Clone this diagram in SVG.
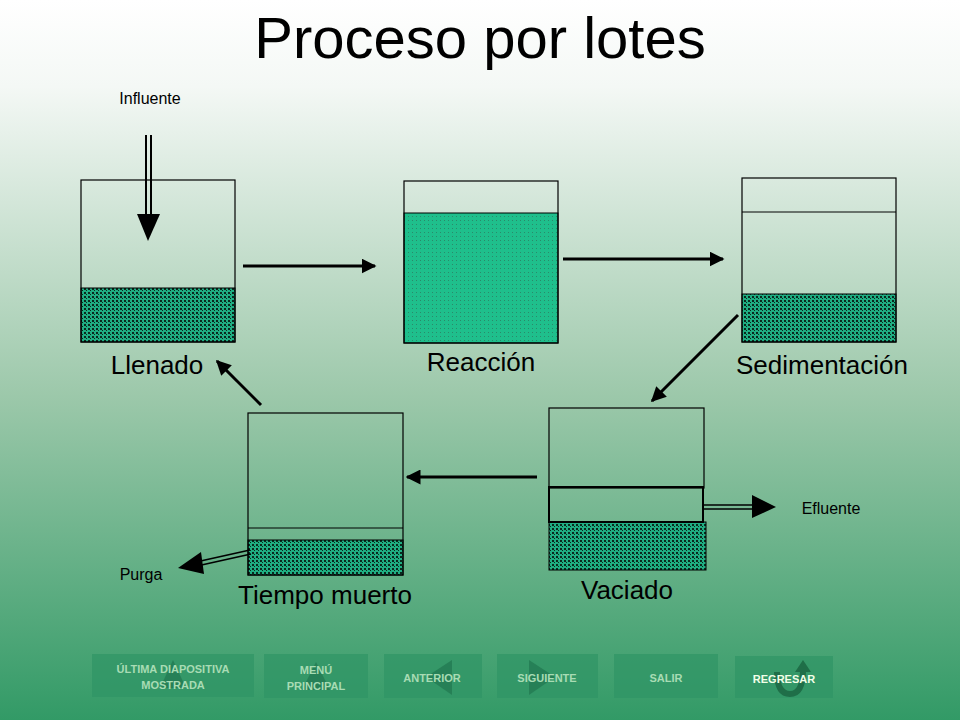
<svg xmlns="http://www.w3.org/2000/svg" width="960" height="720" viewBox="0 0 960 720">
<defs>
<linearGradient id="bg" x1="0" y1="0" x2="0" y2="1">
<stop offset="0" stop-color="#ffffff"/><stop offset="0.12" stop-color="#f4f8f5"/><stop offset="0.55" stop-color="#9cc8aa"/><stop offset="1" stop-color="#329a66"/>
</linearGradient>
<pattern id="dots" width="4" height="4" patternUnits="userSpaceOnUse">
<rect width="4" height="4" fill="#1fae82"/><rect width="2" height="2" fill="#0a2a1e"/><rect x="2" y="2" width="1" height="1" fill="#0a2a1e"/>
</pattern>
<pattern id="light" width="4" height="4" patternUnits="userSpaceOnUse">
<rect width="4" height="4" fill="#1fbf8c"/><rect width="1" height="1" fill="#2a8a6a"/>
</pattern>
<marker id="ah" viewBox="0 0 10 10" refX="9" refY="5" markerWidth="5" markerHeight="5" orient="auto"><path d="M0,0L10,5L0,10z" fill="#000"/></marker>
<style>
.t{fill:none;stroke:#000;stroke-width:1.2}
.lbl{font-family:"Liberation Sans",Arial,sans-serif;fill:#000}
.c{stroke:#000;stroke-width:3;marker-end:url(#ah)}
.btn{fill:#2f9465;opacity:0.7}
.bt{font-family:"Liberation Sans",Arial,sans-serif;font-size:11px;font-weight:bold;fill:#a8dcb4;text-anchor:middle}
.tri{fill:#237a52;opacity:0.8}
</style>
</defs>
<rect width="960" height="720" fill="url(#bg)"/>
<text x="480" y="58" class="lbl" font-size="58" text-anchor="middle">Proceso por lotes</text>

<g id="llenado">
<rect x="81" y="288" width="154" height="54" fill="url(#dots)" stroke="#000"/>
<rect x="81" y="180" width="154" height="162" class="t"/>
<line x1="146" y1="135" x2="146" y2="216" stroke="#000" stroke-width="2"/>
<line x1="151" y1="135" x2="151" y2="216" stroke="#000" stroke-width="2"/>
<path d="M137,214L160,214L148,241z" fill="#000"/>
<text x="150" y="104" class="lbl" font-size="16" text-anchor="middle">Influente</text>
<text x="157" y="374" class="lbl" font-size="26" text-anchor="middle">Llenado</text>
</g>
<g id="reaccion">
<rect x="404" y="213" width="154" height="130" fill="url(#light)" stroke="#000"/>
<rect x="404" y="181" width="154" height="162" class="t"/>
<text x="481" y="371" class="lbl" font-size="26" text-anchor="middle">Reacción</text>
</g>
<g id="sedimentacion">
<rect x="742" y="294" width="154" height="48" fill="url(#dots)" stroke="#000"/>
<rect x="742" y="178" width="154" height="164" class="t"/>
<line x1="742" y1="212" x2="896" y2="212" stroke="#000"/>
<text x="822" y="374" class="lbl" font-size="26" text-anchor="middle">Sedimentación</text>
</g>
<g id="vaciado">
<rect x="549" y="522" width="157" height="48" fill="url(#dots)" stroke="#000"/>
<rect x="549" y="408" width="155" height="80" class="t"/>
<rect x="549" y="487" width="154" height="35" fill="none" stroke="#000" stroke-width="2"/>
<line x1="703" y1="505" x2="756" y2="505" stroke="#000" stroke-width="1.5"/>
<line x1="703" y1="509" x2="756" y2="509" stroke="#000" stroke-width="1.5"/>
<path d="M752,495L776,507L752,518z" fill="#000"/>
<text x="831" y="514" class="lbl" font-size="16" text-anchor="middle">Efluente</text>
<text x="627" y="599" class="lbl" font-size="26" text-anchor="middle">Vaciado</text>
</g>
<g id="tiempo-muerto">
<rect x="248" y="540" width="155" height="35" fill="url(#dots)" stroke="#000"/>
<rect x="248" y="413" width="155" height="162" class="t"/>
<line x1="248" y1="528" x2="403" y2="528" stroke="#000"/>
<line x1="250" y1="550" x2="196" y2="562" stroke="#000" stroke-width="1.5"/>
<line x1="251" y1="554" x2="197" y2="566" stroke="#000" stroke-width="1.5"/>
<path d="M201,552L178,568L204,574z" fill="#000"/>
<text x="141" y="580" class="lbl" font-size="16" text-anchor="middle">Purga</text>
<text x="325" y="604" class="lbl" font-size="26" text-anchor="middle">Tiempo muerto</text>
</g>
<g id="connectors">
<line x1="243" y1="266" x2="375" y2="266" class="c"/>
<line x1="563" y1="259" x2="723" y2="259" class="c"/>
<line x1="738" y1="315" x2="652" y2="401" class="c"/>
<line x1="537" y1="477" x2="407" y2="477" class="c"/>
<line x1="261" y1="405" x2="217" y2="361" class="c"/>
</g>
<g id="nav">
<rect x="92" y="654" width="162" height="43" class="btn"/>
<path d="M160,688L173,660L186,688z" class="tri"/>
<text x="173" y="673" class="bt">ÚLTIMA DIAPOSITIVA</text><text x="173" y="689" class="bt">MOSTRADA</text>
<rect x="264" y="654" width="104" height="44" class="btn"/>
<path d="M302,690L316,662L330,690z" class="tri"/>
<text x="316" y="674" class="bt">MENÚ</text><text x="316" y="690" class="bt">PRINCIPAL</text>
<rect x="384" y="654" width="98" height="44" class="btn"/>
<path d="M452,660L426,677L452,695z" class="tri"/>
<text x="432" y="682" class="bt">ANTERIOR</text>
<rect x="497" y="654" width="101" height="44" class="btn"/>
<path d="M529,660L555,677L529,695z" class="tri"/>
<text x="547" y="682" class="bt">SIGUIENTE</text>
<rect x="614" y="654" width="104" height="44" class="btn"/>
<text x="666" y="682" class="bt">SALIR</text>
<rect x="735" y="656" width="98" height="42" class="btn"/>
<path d="M777,672Q777,694 790,694Q803,694 803,670" fill="none" stroke="#1f6e48" stroke-width="6"/>
<path d="M795,672L803,660L811,672z" fill="#1f6e48"/>
<text x="784" y="683" class="bt" style="fill:#f2ffe8">REGRESAR</text>
</g>
</svg>
